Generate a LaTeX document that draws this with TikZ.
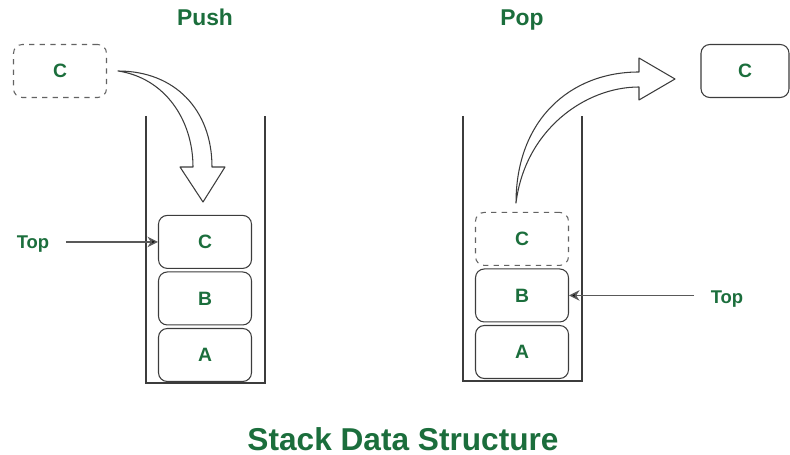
\documentclass[tikz,border=0pt]{standalone}
\usepackage{fontspec}
\setmainfont{Liberation Sans}
\usetikzlibrary{arrows.meta, positioning}
\definecolor{stackgreen}{HTML}{1B6E3C}
\definecolor{linegray}{HTML}{3C3C3C}

\begin{document}
\begin{tikzpicture}[
    x=0.02cm, y=-0.02cm,
    node distance=0.05cm,
    item/.style={draw=linegray, rounded corners=5pt, minimum width=1.86cm, minimum height=1.06cm,
      font=\fontsize{11}{13}\selectfont\bfseries, text=stackgreen, line width=0.6pt},
    ghost/.style={item, dashed, draw=linegray!80},
    heading/.style={font=\fontsize{13}{15}\selectfont\bfseries, text=stackgreen, anchor=base},
    toplabel/.style={font=\fontsize{10.5}{12}\selectfont\bfseries, text=stackgreen, text depth=0pt},
    wall/.style={draw=linegray, line width=0.9pt},
    pointer/.style={-{Stealth[length=6pt, width=6pt, fill=black]}, draw=linegray!85, line width=0.8pt, shorten <=6pt},
    bigarrow/.style={draw=linegray, fill=white, line width=0.6pt, line join=round}
]
\useasboundingbox (0,0) rectangle (790,455);

% Titles
\node[heading] (push) at (205,26) {Push};
\node[heading] (pop) at (522,26) {Pop};
\node[heading, font=\fontsize{18}{21}\selectfont\bfseries] (title) at (403,450) {Stack Data Structure};

% Push stack
\draw[wall] (146,116) -- (146,383) -- (265,383) -- (265,116);
\node[item] (pushA) at (205,355) {A};
\node[item, above=of pushA] (pushB) {B};
\node[item, above=of pushB] (pushC) {C};
\node[ghost] (newC) at (60,71) {C};
\node[toplabel] (pushtop) at (33,242) {Top};

% Pop stack
\draw[wall] (463,116) -- (463,381) -- (582,381) -- (582,116);
\node[item] (popA) at (522,352) {A};
\node[item, above=of popA] (popB) {B};
\node[ghost, above=of popB] (popC) {C};
\node[item, minimum width=1.76cm] (outC) at (745,71) {C};
\node[toplabel] (poptop) at (727,297) {Top};

% Block arrows
\draw[bigarrow] (118,71) .. controls (175,71) and (212,110) .. (212,167)
  -- (225,167) -- (203,202) -- (180,167) -- (193,167)
  .. controls (193,120) and (165,78) .. (118,71) -- cycle;
\draw[bigarrow] (516,203) .. controls (516,120) and (570,72) .. (639,72)
  -- (639,58) -- (675,79) -- (639,100) -- (639,87)
  .. controls (585,87) and (525,130) .. (516,203) -- cycle;

% Top pointers
\draw[pointer] (pushtop.east |- pushC.west) -- (pushC.west);
\draw[pointer] (poptop.west |- popB.east) -- (popB.east);

\end{tikzpicture}
\end{document}
